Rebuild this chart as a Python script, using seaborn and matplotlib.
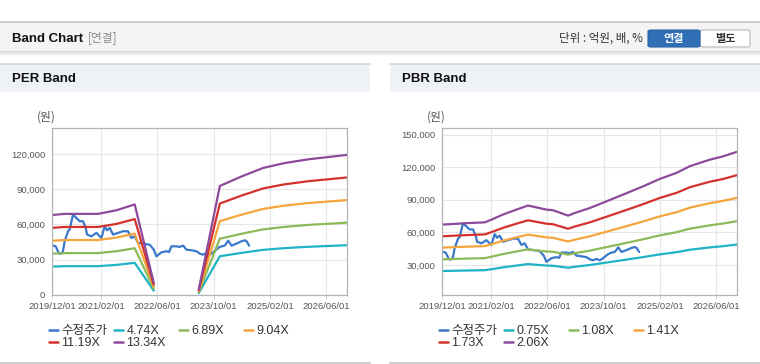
import numpy as np
import pandas as pd
import matplotlib
matplotlib.use("Agg")
import matplotlib.pyplot as plt
import matplotlib.dates as mdates
from matplotlib.patches import Rectangle, FancyBboxPatch
from matplotlib.lines import Line2D
from matplotlib.ticker import FuncFormatter
import seaborn as sns

# ── data ─────────────────────────────────────────────────────────────────────
price_dates = ["2019-12-01", "2020-01-02", "2020-01-31", "2020-02-20", "2020-03-05",
               "2020-03-20", "2020-04-18", "2020-05-02", "2020-05-31", "2020-06-29",
               "2020-07-28", "2020-08-26", "2020-09-18", "2020-09-30", "2020-11-06",
               "2020-12-20", "2021-01-18", "2021-02-01", "2021-03-02", "2021-03-22",
               "2021-04-14", "2021-05-13", "2021-06-26", "2021-08-08", "2021-09-20",
               "2021-10-19", "2021-11-17", "2021-12-16", "2022-01-29", "2022-03-27",
               "2022-05-01", "2022-05-24", "2022-07-07", "2022-08-19", "2022-09-11",
               "2022-10-01", "2022-11-14", "2022-12-13", "2023-01-11", "2023-02-08",
               "2023-03-24", "2023-05-06", "2023-06-04", "2023-07-03", "2023-08-01",
               "2023-08-30", "2023-09-28", "2023-11-10", "2023-12-09", "2024-01-07",
               "2024-02-05", "2024-03-05", "2024-04-17", "2024-05-31", "2024-06-29",
               "2024-07-13", "2024-08-05"]
price_values = [42300, 41400, 35200, 35200, 37200, 45700, 54200, 55600, 68400, 65500,
                62700, 62700, 57000, 51400, 49900, 52800, 49900, 48500, 58400, 55000,
                57000, 51400, 52800, 54200, 54200, 48500, 49900, 44300, 43700, 42800,
                38600, 32900, 36300, 37200, 36600, 41400, 41400, 40900, 42000, 38600,
                38000, 37200, 35200, 34300, 35700, 34300, 36300, 40000, 41400, 42000,
                46200, 42000, 43700, 45700, 46500, 45700, 42000]

# EPS behind the PER band (two segments, gap where EPS < 0)
eps_dates = ["2019-12-01", "2020-03-20", "2021-01-03", "2021-06-11", "2021-11-17", "2022-05-01",
             "2023-05-26", "2023-11-25", "2024-06-01", "2024-12-05", "2025-06-01", "2026-01-01",
             "2026-12-01"]
eps_values = [5100, 5170, 5170, 5400, 5770, 780,
              350, 6950, 7560, 8100, 8400, 8650, 8930]
eps_segment = [0, 0, 0, 0, 0, 0, 1, 1, 1, 1, 1, 1, 1]
per_multiples = [4.74, 6.89, 9.04, 11.19, 13.34]

# BPS behind the PBR band
bps_dates = ["2019-12-01", "2020-07-28", "2020-12-06", "2021-02-01", "2021-05-13", "2021-09-06",
             "2021-12-16", "2022-05-24", "2022-07-21", "2022-11-28", "2023-01-25", "2023-06-04",
             "2023-10-27", "2024-03-19", "2024-09-09", "2025-01-31", "2025-06-25", "2025-10-19",
             "2026-04-10", "2026-08-04", "2026-12-01"]
bps_values = [32600, 33300, 33600, 34800, 37100, 39300,
              41100, 39300, 39000, 36600, 37800, 40000,
              43000, 46000, 49700, 53000, 55700, 58700,
              61600, 63100, 65100]
bps_segment = [0] * len(bps_values)
pbr_multiples = [0.75, 1.08, 1.41, 1.73, 2.06]

price_label = "수정주가"
tick_dates = ["2019-12-01", "2021-02-01", "2022-06-01", "2023-10-01", "2025-02-01", "2026-06-01"]
band_colors = ["#1fb3c6", "#8cba58", "#f6a53c", "#d3312c", "#8d4a9d"]
price_color = "#3a78cc"


def band_frame(b_dates, b_values, b_seg, multiples):
    rows = [pd.DataFrame({"date": pd.to_datetime(price_dates), "value": price_values,
                          "series": price_label, "seg": 0})]
    for m in multiples:
        rows.append(pd.DataFrame({"date": pd.to_datetime(b_dates),
                                  "value": np.array(b_values) * m,
                                  "series": f"{m:.2f}X", "seg": b_seg}))
    return pd.concat(rows, ignore_index=True)


per_df = band_frame(eps_dates, eps_values, eps_segment, per_multiples)
pbr_df = band_frame(bps_dates, bps_values, bps_segment, pbr_multiples)

# ── style ────────────────────────────────────────────────────────────────────
sns.set_style("whitegrid", {"grid.color": "#e6e6e6", "axes.edgecolor": "#b4b4b4"})
plt.rcParams["font.family"] = ["Liberation Sans", "Noto Sans CJK KR", "DejaVu Sans"]

W, H = 760, 364
fig = plt.figure(figsize=(W / 100, H / 100), dpi=100)
fig.patch.set_facecolor("white")

BOLD = ["Liberation Sans", "Noto Sans CJK KR"]
KR = ["Noto Sans CJK KR"]


def px(x, y):
    return x / W, 1 - y / H


def rect(x0, y0, x1, y1, **kw):
    fig.add_artist(Rectangle((x0 / W, 1 - y1 / H), (x1 - x0) / W, (y1 - y0) / H,
                             transform=fig.transFigure, **kw))


def hline(x0, x1, y, color, lw=1.0):
    fig.add_artist(Line2D([x0 / W, x1 / W], [1 - y / H, 1 - y / H],
                          transform=fig.transFigure, color=color, lw=lw))


# header bar
rect(0, 22, 760, 51, facecolor="#f4f4f4", edgecolor="none")
hline(0, 760, 22, "#c4c4c4", 1.2)
hline(0, 760, 52, "#dddddd", 1.5)
hline(0, 760, 54, "#eeeeee", 1.5)
fig.text(*px(12, 38.5), "Band Chart", fontsize=9.5, fontweight="bold", color="#111111",
         va="center", family=BOLD)
fig.text(*px(88, 38), "[연결]", fontsize=8.5, color="#8a8a8a", va="center", family=KR)
fig.text(*px(643, 38), "단위 : 억원, 배, %", fontsize=8.3, color="#333333", va="center",
         ha="right", family=KR)
fig.add_artist(FancyBboxPatch((700 / W, 1 - 47 / H), 50 / W, 17 / H,
                              boxstyle="round,pad=0,rounding_size=0.004",
                              transform=fig.transFigure, facecolor="white",
                              edgecolor="#b8b8b8", lw=0.8))
fig.add_artist(FancyBboxPatch((648 / W, 1 - 47 / H), 52 / W, 17 / H,
                              boxstyle="round,pad=0,rounding_size=0.004",
                              transform=fig.transFigure, facecolor="#2f6fb6",
                              edgecolor="#2a64a6", lw=0.8))
fig.text(*px(674, 38.5), "연결", fontsize=8, color="white", fontweight="bold",
         ha="center", va="center", family=KR)
fig.text(*px(725, 38.5), "별도", fontsize=8, color="#333333", fontweight="bold",
         ha="center", va="center", family=KR)

panels = [
    (0, 370, "PER Band", per_df, per_multiples, (0, 142000), [0, 30000, 60000, 90000, 120000]),
    (390, 760, "PBR Band", pbr_df, pbr_multiples, (2400, 156000),
     [30000, 60000, 90000, 120000, 150000]),
]

for x0, x1, title, df, mults, ylim, yticks in panels:
    rect(x0, 64, x1, 92, facecolor="#eef2f7", edgecolor="none")
    hline(x0, x1, 64, "#d6d6d6", 1.2)
    hline(x0, x1, 362.5, "#d0d0d0", 1.5)
    fig.text(*px(x0 + 12, 79), title, fontsize=9.5, fontweight="bold", color="#111111",
             va="center", family=BOLD)
    fig.text(*px(x0 + 37, 117), "(원)", fontsize=8.5, color="#555555", va="center",
             family=KR)

    ax = fig.add_axes([(x0 + 52) / W, (H - 295) / H, 295 / W, 167 / H])
    labels = [price_label] + [f"{m:.2f}X" for m in mults]
    palette = dict(zip(labels, [price_color] + band_colors))
    sns.lineplot(data=df, x="date", y="value", hue="series", units="seg", estimator=None,
                 hue_order=labels, palette=palette, linewidth=1.6, legend=False, ax=ax)

    ax.set_xlim(pd.Timestamp("2019-12-01"), pd.Timestamp("2026-12-01"))
    ax.set_ylim(*ylim)
    ax.set_xticks(pd.to_datetime(tick_dates))
    ax.xaxis.set_major_formatter(mdates.DateFormatter("%Y/%m/%d"))
    ax.set_yticks(yticks)
    ax.yaxis.set_major_formatter(FuncFormatter(lambda v, p: f"{int(v):,}"))
    ax.set_xlabel("")
    ax.set_ylabel("")
    ax.tick_params(axis="both", labelsize=6.8, colors="#555555", length=3, width=0.6,
                   pad=2, color="#c8c8c8")
    ax.tick_params(axis="x", bottom=True)
    ax.tick_params(axis="y", left=False)
    for s in ax.spines.values():
        s.set_color("#b4b4b4")
        s.set_linewidth(0.9)

    # legend, fixed-width columns like the source
    col_x = [52, 117, 182, 247]
    row_y = [331, 343]
    for i, lab in enumerate(labels):
        h = Line2D([], [], color=palette[lab], lw=1.8)
        lx, ly = px(x0 + col_x[i % 4] - 3, row_y[i // 4])
        fig.legend([h], [lab], loc="center left", bbox_to_anchor=(lx, ly), frameon=False,
                   borderpad=0, borderaxespad=0, handlelength=0.75, handletextpad=0.25,
                   prop={"size": 9, "family": ["Liberation Sans", "Noto Sans CJK KR"]},
                   labelcolor="#333333")

fig.savefig("out.png", dpi=100, facecolor="white")
